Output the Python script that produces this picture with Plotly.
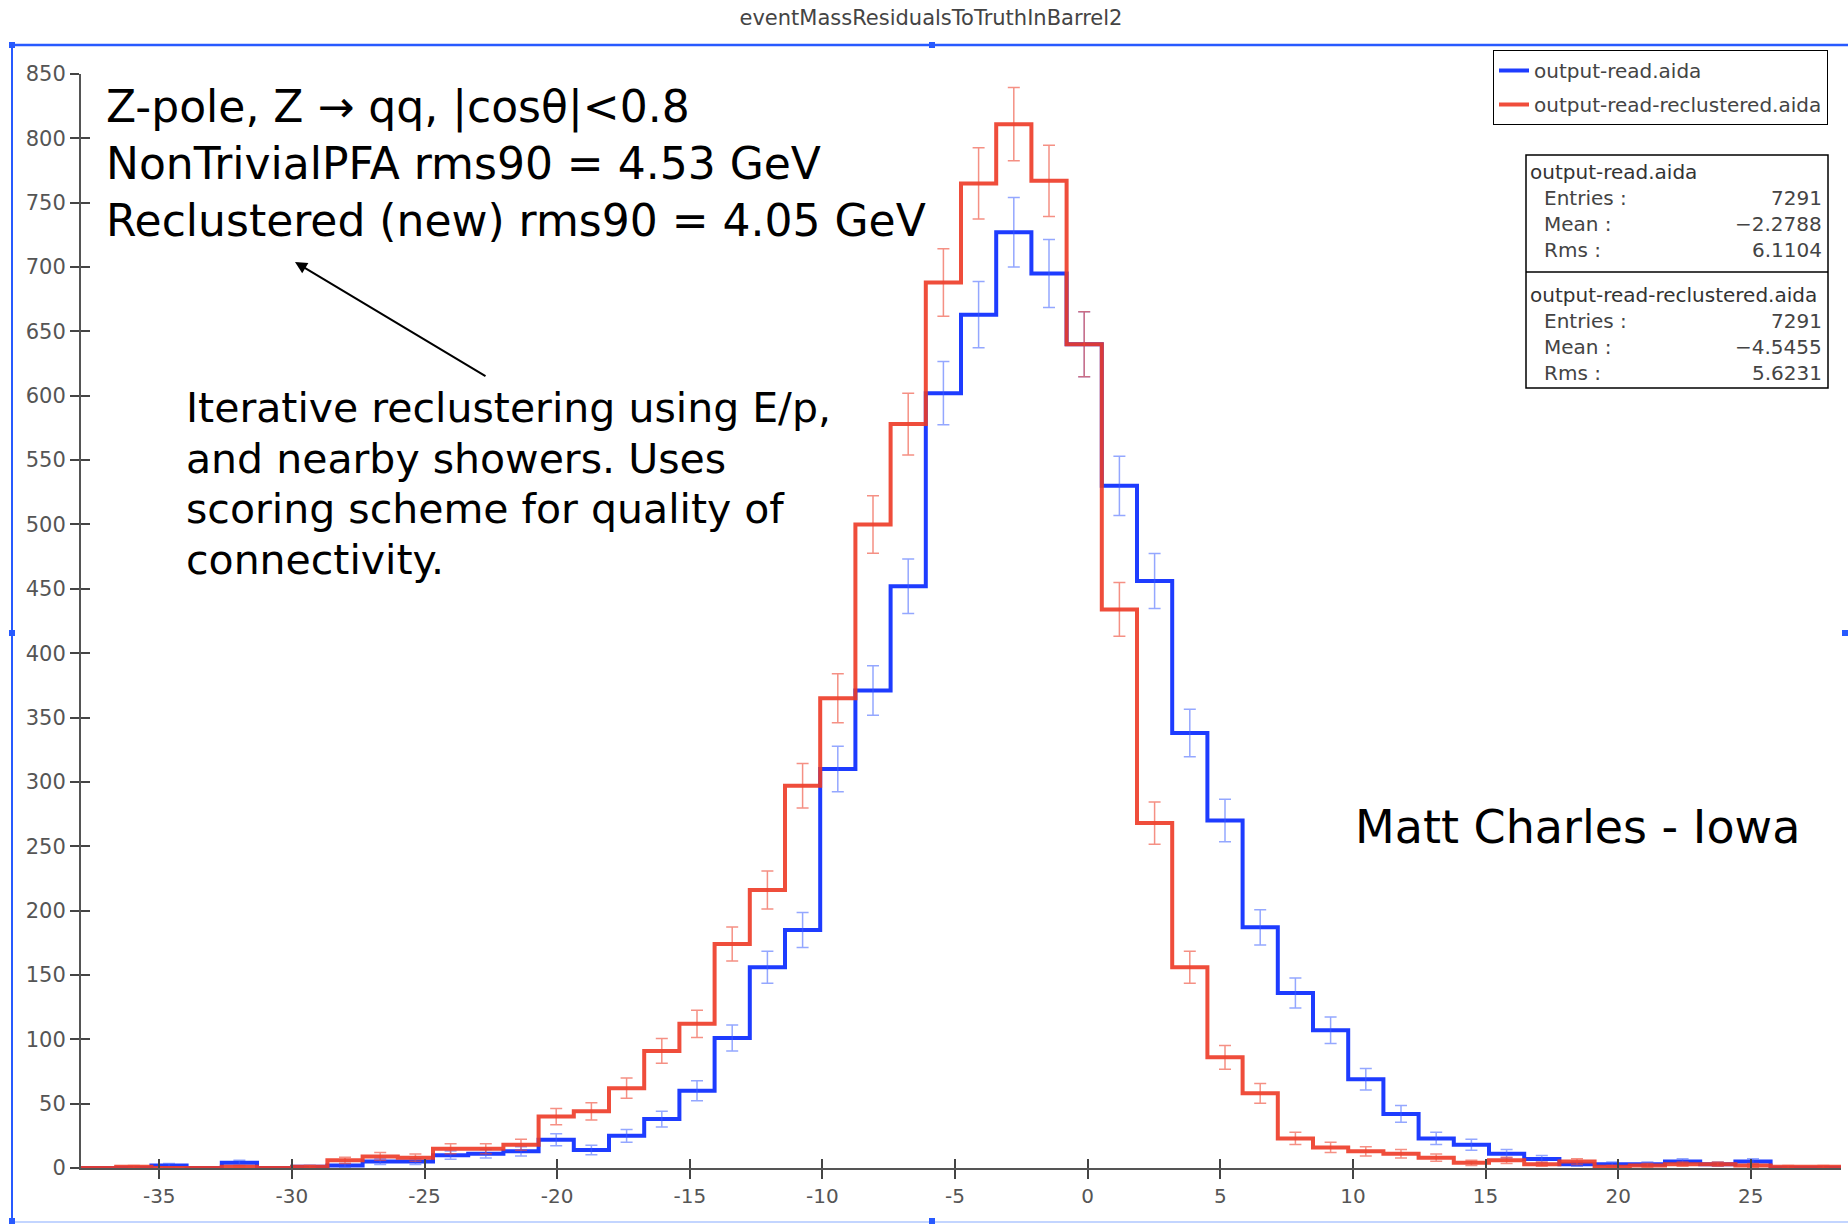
import numpy as np
import plotly.graph_objects as go

# ---------------- data ----------------
BIN_LOW = -37.95
BIN_HIGH = 28.40
N_BINS = 50

blue_counts = [0, 0, 2, 0, 4, 0, 1, 2, 5, 5,
               10, 11, 13, 22, 14, 25, 38, 60, 101, 156,
               185, 310, 371, 452, 602, 663, 727, 695, 640, 530,
               456, 338, 270, 187, 136, 107, 69, 42, 23, 18,
               11, 7, 3, 3, 3, 5, 3, 5, 0, 0]
red_counts = [0, 1, 0, 0, 1, 0, 1, 6, 9, 8,
              15, 15, 18, 40, 44, 62, 91, 112, 174, 216,
              297, 365, 500, 578, 688, 765, 811, 767, 640, 434,
              268, 156, 86, 58, 23, 16, 13, 11, 8, 4,
              6, 3, 5, 1, 2, 3, 3, 2, 1, 1]

series_names = ["output-read.aida", "output-read-reclustered.aida"]
x_tickvals = [-35, -30, -25, -20, -15, -10, -5, 0, 5, 10, 15, 20, 25]
x_ticktext = ["-35", "-30", "-25", "-20", "-15", "-10", "-5", "0", "5", "10", "15", "20", "25"]
y_tickvals = list(range(0, 851, 50))

stats_rows = [
    ("output-read.aida", [("Entries :", "7291"), ("Mean :", "\u22122.2788"), ("Rms :", "6.1104")]),
    ("output-read-reclustered.aida", [("Entries :", "7291"), ("Mean :", "\u22124.5455"), ("Rms :", "5.6231")]),
]

title_text = "eventMassResidualsToTruthInBarrel2"
block1 = ["Z-pole, Z \u2192 qq, |cos\u03b8|<0.8",
          "NonTrivialPFA rms90 = 4.53 GeV",
          "Reclustered (new) rms90 = 4.05 GeV"]
block2 = ["Iterative reclustering using E/p,",
          "and nearby showers. Uses",
          "scoring scheme for quality of",
          "connectivity."]
author_text = "Matt Charles - Iowa"

# ---------------- geometry helpers ----------------
W, H = 1848, 1224
ML, MR, MT, MB = 81, 7, 74, 56
PW, PH = W - ML - MR, H - MT - MB


def pxx(px):
    return (px - ML) / PW


def pxy(py):
    return (H - MB - py) / PH


edges = np.linspace(BIN_LOW, BIN_HIGH, N_BINS + 1)
centers = 0.5 * (edges[:-1] + edges[1:])

BLUE = "rgb(30,60,255)"
RED = "rgb(238,58,38)"
BLUE_ERR = "rgba(60,95,255,0.55)"
RED_ERR = "rgba(238,70,50,0.6)"
FONT = "DejaVu Sans"

fig = go.Figure()


def add_hist(counts, name, color, errcolor, group, opacity):
    ys = list(counts) + [counts[-1]]
    fig.add_trace(go.Scatter(
        x=edges, y=ys, mode="lines", name=name,
        line=dict(color=color, width=4, shape="hv"),
        opacity=opacity, legendgroup=group, hoverinfo="skip"))
    cy = [c if c > 0 else None for c in counts]
    err = [float(np.sqrt(c)) if c > 0 else 0 for c in counts]
    fig.add_trace(go.Scatter(
        x=centers, y=cy, mode="markers", showlegend=False,
        marker=dict(size=1, color="rgba(0,0,0,0)"),
        error_y=dict(type="data", array=err, visible=True,
                     color=errcolor, thickness=1.5, width=6),
        legendgroup=group, hoverinfo="skip"))


add_hist(blue_counts, series_names[0], BLUE, BLUE_ERR, "g1", 1.0)
add_hist(red_counts, series_names[1], RED, RED_ERR, "g2", 0.9)

# dummy trace for the overlay axes (crossing ticks)
fig.add_trace(go.Scatter(x=[None], y=[None], xaxis="x2", yaxis="y2",
                         showlegend=False, hoverinfo="skip"))

axis_common = dict(showgrid=False, zeroline=False, tickcolor="#444",
                   tickwidth=1.5, ticklen=9)

fig.update_layout(
    width=W, height=H,
    margin=dict(l=ML, r=MR, t=MT, b=MB),
    paper_bgcolor="white", plot_bgcolor="white",
    font=dict(family=FONT, color="#555", size=20),
    title=dict(text=title_text, x=931 / W, xref="container", xanchor="center",
               y=1 - 18 / H, yref="container", yanchor="middle",
               font=dict(family=FONT, size=21, color="#444")),
    xaxis=dict(range=[BIN_LOW, BIN_HIGH], tickvals=x_tickvals, ticktext=x_ticktext,
               ticks="outside", showline=True, linecolor="#555", linewidth=2,
               tickfont=dict(size=20, color="#555"), **axis_common),
    yaxis=dict(range=[0, 850], tickvals=y_tickvals, ticks="outside",
               showline=True, linecolor="#555", linewidth=2,
               tickfont=dict(size=21, color="#555"), **axis_common),
    xaxis2=dict(range=[BIN_LOW, BIN_HIGH], overlaying="x", anchor="y2", side="bottom",
                tickvals=x_tickvals, ticks="inside", showticklabels=False,
                showline=False, **axis_common),
    yaxis2=dict(range=[0, 850], overlaying="y", anchor="x2", side="left",
                tickvals=y_tickvals, ticks="inside", showticklabels=False,
                showline=False, **axis_common),
    legend=dict(x=pxx(1493), y=pxy(50), xanchor="left", yanchor="top",
                bgcolor="white", bordercolor="black", borderwidth=1,
                font=dict(family=FONT, size=20, color="#444"),
                itemwidth=30, traceorder="grouped", tracegroupgap=5),
    showlegend=True,
)

shapes = []
annotations = []

# blue selection frame
FRAME = "rgb(40,90,255)"
shapes.append(dict(type="line", xref="paper", yref="paper", x0=pxx(12), x1=pxx(1848),
                   y0=pxy(45), y1=pxy(45), line=dict(color=FRAME, width=2.5)))
shapes.append(dict(type="line", xref="paper", yref="paper", x0=pxx(12), x1=pxx(12),
                   y0=pxy(45), y1=pxy(1222), line=dict(color=FRAME, width=2)))
shapes.append(dict(type="line", xref="paper", yref="paper", x0=pxx(12), x1=pxx(1848),
                   y0=pxy(1222), y1=pxy(1222), line=dict(color="rgba(120,160,255,0.6)", width=1.5)))
for hx, hy in [(12, 45), (932, 45), (12, 633), (12, 1221), (932, 1221), (1845, 633)]:
    shapes.append(dict(type="rect", xref="paper", yref="paper",
                       x0=pxx(hx - 3), x1=pxx(hx + 3), y0=pxy(hy - 3), y1=pxy(hy + 3),
                       fillcolor=FRAME, line=dict(width=0)))

# statistics box
shapes.append(dict(type="rect", xref="paper", yref="paper",
                   x0=pxx(1526), x1=pxx(1828), y0=pxy(155), y1=pxy(388),
                   line=dict(color="black", width=1.5), fillcolor="white"))
shapes.append(dict(type="line", xref="paper", yref="paper",
                   x0=pxx(1526), x1=pxx(1828), y0=pxy(272), y1=pxy(272),
                   line=dict(color="black", width=1.5)))
block_tops = [172, 295]
for (hdr, rows), ytop in zip(stats_rows, block_tops):
    annotations.append(dict(text=hdr, xref="paper", yref="paper", x=pxx(1528), y=pxy(ytop),
                            xanchor="left", yanchor="middle", showarrow=False,
                            font=dict(family=FONT, size=20, color="#333")))
    for i, (lab, val) in enumerate(rows):
        yy = ytop + 26 * (i + 1)
        annotations.append(dict(text=lab, xref="paper", yref="paper", x=pxx(1542), y=pxy(yy),
                                xanchor="left", yanchor="middle", showarrow=False,
                                font=dict(family=FONT, size=20, color="#444")))
        annotations.append(dict(text=val, xref="paper", yref="paper", x=pxx(1824), y=pxy(yy),
                                xanchor="right", yanchor="middle", showarrow=False,
                                font=dict(family=FONT, size=20, color="#444")))

# text blocks
for i, line in enumerate(block1):
    annotations.append(dict(text=line, xref="paper", yref="paper", x=pxx(104), y=pxy(107 + 56.6 * i),
                            xanchor="left", yanchor="middle", showarrow=False,
                            font=dict(family=FONT, size=44, color="black")))
for i, line in enumerate(block2):
    annotations.append(dict(text=line, xref="paper", yref="paper", x=pxx(184), y=pxy(408 + 50.7 * i),
                            xanchor="left", yanchor="middle", showarrow=False,
                            font=dict(family=FONT, size=41, color="black")))
annotations.append(dict(text=author_text, xref="paper", yref="paper", x=pxx(1353), y=pxy(827),
                        xanchor="left", yanchor="middle", showarrow=False,
                        font=dict(family=FONT, size=46, color="black")))
# arrow
annotations.append(dict(text="", xref="paper", yref="paper", x=pxx(295), y=pxy(262),
                        ax=487 - 295, ay=377 - 262, showarrow=True,
                        arrowhead=2, arrowsize=1.2, arrowwidth=2, arrowcolor="black"))

fig.update_layout(shapes=shapes, annotations=annotations)

fig.write_html("out.html")
